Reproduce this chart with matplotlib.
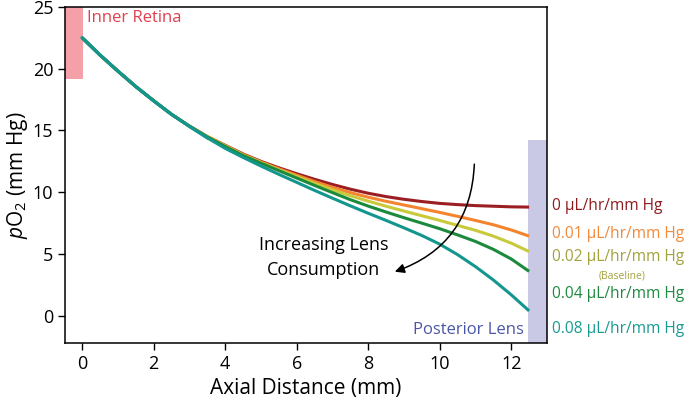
import matplotlib
matplotlib.use("Agg")
import matplotlib.pyplot as plt
from matplotlib.patches import Rectangle

plt.rcParams['font.family'] = ['Open Sans', 'DejaVu Sans']
plt.rcParams['mathtext.fontset'] = 'custom'
plt.rcParams['mathtext.rm'] = 'Open Sans'
plt.rcParams['mathtext.it'] = 'Open Sans:italic'

# Data
x = [0, 0.5, 1, 1.5, 2, 2.5, 3, 3.5, 4, 4.5, 5, 5.5, 6, 6.5, 7, 7.5, 8, 8.5,
     9, 9.5, 10, 10.5, 11, 11.5, 12, 12.5]
series_labels = ["0 \u00b5L/hr/mm Hg", "0.01 \u00b5L/hr/mm Hg", "0.02 \u00b5L/hr/mm Hg",
                 "0.04 \u00b5L/hr/mm Hg", "0.08 \u00b5L/hr/mm Hg"]
po2_0 = [22.5, 21.1, 19.8, 18.55, 17.4, 16.3, 15.35, 14.5, 13.8, 13.1, 12.5, 11.98,
         11.5, 11.05, 10.63, 10.25, 9.92, 9.65, 9.43, 9.25, 9.1, 9.0, 8.92, 8.87, 8.82, 8.8]
po2_001 = [22.5, 21.1, 19.8, 18.55, 17.4, 16.3, 15.35, 14.5, 13.77, 13.06, 12.45, 11.9,
           11.38, 10.87, 10.4, 9.97, 9.6, 9.27, 8.97, 8.67, 8.37, 8.05, 7.72, 7.37, 6.95, 6.45]
po2_002 = [22.5, 21.1, 19.8, 18.55, 17.4, 16.3, 15.35, 14.5, 13.75, 13.02, 12.4, 11.82,
           11.27, 10.72, 10.2, 9.72, 9.28, 8.87, 8.48, 8.1, 7.72, 7.32, 6.92, 6.45, 5.88, 5.2]
po2_004 = [22.5, 21.1, 19.8, 18.55, 17.4, 16.3, 15.35, 14.48, 13.7, 12.97, 12.35, 11.75,
           11.15, 10.55, 9.97, 9.4, 8.88, 8.4, 7.94, 7.5, 7.05, 6.55, 6.02, 5.38, 4.6, 3.6]
po2_008 = [22.5, 21.1, 19.8, 18.55, 17.4, 16.3, 15.33, 14.4, 13.55, 12.82, 12.12, 11.45,
           10.8, 10.15, 9.52, 8.9, 8.3, 7.72, 7.12, 6.5, 5.8, 4.95, 3.98, 2.9, 1.7, 0.4]
series = [po2_0, po2_001, po2_002, po2_004, po2_008]
x_ticks = [0, 2, 4, 6, 8, 10, 12]
y_ticks = [0, 5, 10, 15, 20, 25]

line_colors = ['#9b1f22', '#f4842e', '#c9c93c', '#1c8a3c', '#13968d']
text_colors = ['#8e1b1f', '#f08a3c', '#a3a23e', '#208a44', '#1a9a92']

fig = plt.figure(figsize=(6.94, 4.05), dpi=100)
ax = fig.add_axes([0.0937, 0.153, 0.6945, 0.830])
ax.set_xlim(-0.48, 13.0)
ax.set_ylim(-2.2, 25)

ax.add_patch(Rectangle((-0.48, 19.2), 0.5, 5.8, color='#f5a0a8', lw=0, zorder=1))
ax.add_patch(Rectangle((12.47, -2.2), 0.53, 16.4, color='#c9c9e5', lw=0, zorder=1))

for ys, c in zip(series, line_colors):
    ax.plot(x, ys, color=c, lw=2.2, zorder=3, solid_capstyle='butt', solid_joinstyle='round')
ax.plot(x[:8], po2_008[:8], color=line_colors[4], lw=2.2, zorder=4, solid_joinstyle='round')

ax.set_xticks(x_ticks)
ax.set_yticks(y_ticks)
ax.tick_params(axis='both', direction='out', length=5, width=1, labelsize=13, colors='black')
ax.tick_params(top=False, right=False)
for s in ax.spines.values():
    s.set_linewidth(1.1)

ax.set_xlabel("Axial Distance (mm)", fontsize=15, labelpad=4)
ax.set_ylabel("$p$O$_2$ (mm Hg)", fontsize=15, labelpad=2)

ax.text(0.14, 24.1, "Inner Retina", color='#e0404f', fontsize=12, va='center', ha='left', zorder=5)
ax.text(12.36, -1.15, "Posterior Lens", color='#4a56a6', fontsize=12, va='center', ha='right', zorder=5)

ax.text(6.75, 4.7, "Increasing Lens\nConsumption", fontsize=13, ha='center', va='center',
        linespacing=1.5)
ax.annotate("", xy=(8.67, 3.5), xytext=(10.97, 12.5),
            arrowprops=dict(arrowstyle='-|>', color='black', lw=1.1,
                            connectionstyle='arc3,rad=-0.35', mutation_scale=14))

label_y = [8.85, 6.6, 4.8, 1.76, -1.05]
for lab, yy, c in zip(series_labels, label_y, text_colors):
    ax.text(13.15, yy, lab, color=c, fontsize=11.2, ha='left', va='center', clip_on=False)
ax.text(15.1, 3.2, "(Baseline)", color=text_colors[2], fontsize=7.5, ha='center', va='center', clip_on=False)

fig.savefig("out.png", dpi=100)
